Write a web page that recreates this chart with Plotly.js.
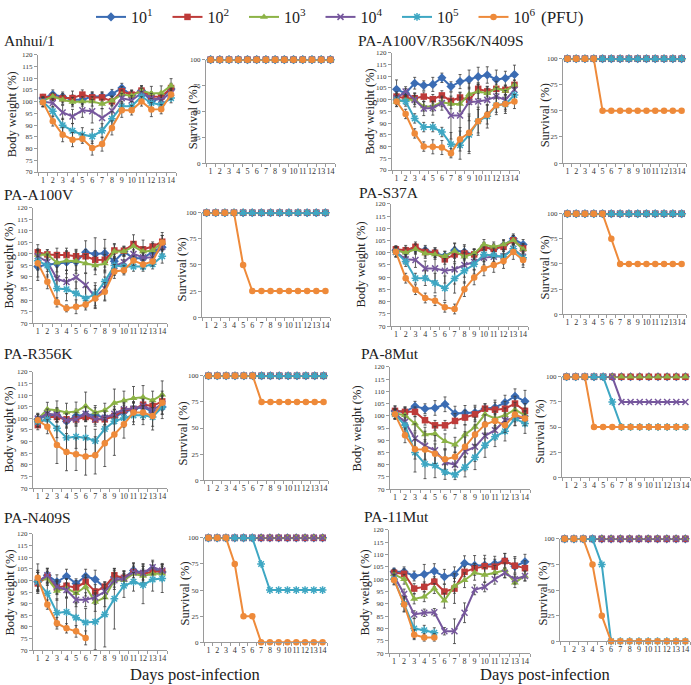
<!DOCTYPE html>
<html><head><meta charset="utf-8">
<script src="https://cdn.plot.ly/plotly-3.0.1.min.js"></script>
<style>html,body{margin:0;padding:0;background:#fff}#chart{width:691px;height:685px}</style>
</head><body><div id="chart"></div>
<script>
// ---------- DATA ----------
const days = [1,2,3,4,5,6,7,8,9,10,11,12,13,14];
const seriesNames = ['10<sup>1</sup>','10<sup>2</sup>','10<sup>3</sup>','10<sup>4</sup>','10<sup>5</sup>','10<sup>6</sup>'];
const panelTitles = ['Anhui/1','PA-A100V/R356K/N409S','PA-A100V','PA-S37A','PA-R356K','PA-8Mut','PA-N409S','PA-11Mut'];
const survTicks = [0,25,50,75,100];
const bwTicks = [70,75,80,85,90,95,100,105,110,115,120];

// Body weight (%) — rows: 10^1 .. 10^6
const anhuiW = [
 [101.5,103,102.1,100.8,100.8,102.2,102.2,103.2,105.8,102.7,104.7,100.1,101.5,105.4],
 [102,102,101.5,101.5,103,101.8,101.8,100.1,104.4,103,104.7,102.2,102.1,105.8],
 [100.4,102.2,100.8,99.8,100.1,100.1,99,100.4,103,102.5,104.7,103.5,103.7,106.8],
 [100,99.4,95.4,93.7,96.3,95.9,93,96.1,101.5,100.5,103.7,101.5,100.8,103.7],
 [100,95.9,89.9,87.6,85.9,85.2,87.6,92.7,98,98,102.2,99.4,98.7,101.5],
 [99.7,91.6,85.9,83.8,84.2,80.2,81.9,88.8,96.3,96.3,100.1,96.6,96.8,103]
];
const anhuiE = [
 [1.5,2,2,2,2,2,2,2,2,2,2,3,2,2],
 [1,1.5,2,3,2,2,2,2,2,2,2,2,2,2],
 [1.5,1.5,2,2,2,2,2,2,2,2,2,3,3,3],
 [2,2,3,3,3,5,4,3,2,2,2,2,2,2],
 [2,2,3,3,3,3,3,3,2,2,2,2,2,2],
 [2,2,3,3,2,3,3,3,3,2,2,3,2,2]
];
const anhuiS = [
 [100,100,100,100,100,100,100,100,100,100,100,100,100,100],
 [100,100,100,100,100,100,100,100,100,100,100,100,100,100],
 [100,100,100,100,100,100,100,100,100,100,100,100,100,100],
 [100,100,100,100,100,100,100,100,100,100,100,100,100,100],
 [100,100,100,100,100,100,100,100,100,100,100,100,100,100],
 [100,100,100,100,100,100,100,100,100,100,100,100,100,100]
];

const tripleW = [
 [104.4,102.7,107,106,106.5,109.3,105.6,107.7,108.6,109.8,110.5,108.6,109.1,110.7],
 [101.3,100.6,100.6,101.3,100.2,101.8,99.5,100.9,99.9,104.6,103.5,104.6,104.2,106.3],
 [99,99.9,99.9,97.1,97.1,99,98.1,98.1,102.3,103.5,102.7,104.8,103.7,106.3],
 [100.6,103.5,99.9,96.2,96.4,98.5,93.2,93.2,99,99.2,99.9,101.3,99.9,104.2],
 [99.9,99.2,92,88.3,88.3,86.2,81,80.6,85,90.8,92.9,97.6,98.1,102],
 [99.2,93.9,85.6,80,79.9,79.6,77.2,83.1,85.9,90.8,93.6,97.6,98.1,99.2]
];
const tripleE = [
 [4,2,2.5,2,3,2,2,3,4,4,3.5,4,3,4],
 [2,1.5,2,2,2,2,2,2,2,2,2,2,2,2],
 [2,2,2,2,2,2,2,3,3,3,3,3,2,2],
 [2,2,3,3,3,3,10,10,8,8,5,4,4,3],
 [2,2,2,2,2,2,5,6,8,6,5,4,4,3],
 [2,2,2,2,3,3,2,5,8,5,4,3,3,3]
];
const tripleS = [
 [100,100,100,100,100,100,100,100,100,100,100,100,100,100],
 [100,100,100,100,100,100,100,100,100,100,100,100,100,100],
 [100,100,100,100,100,100,100,100,100,100,100,100,100,100],
 [100,100,100,100,100,100,100,100,100,100,100,100,100,100],
 [100,100,100,100,100,100,100,100,100,100,100,100,100,100],
 [100,100,100,100,50,50,50,50,50,50,50,50,50,50]
];

const a100vW = [
 [94.5,95.4,95.7,96.4,96.6,100.7,100,100.3,96.8,101,98.1,98.1,101,102.9],
 [100.7,99.8,99.5,99.5,99,99,97.4,97.5,101.5,101.4,104.3,102,103.2,105.3],
 [99.5,99.8,96.2,97,96.9,95.8,95,95.8,101,101,103.3,101,101.5,105],
 [99,96.5,89.3,87.8,89.9,86.5,81.3,85,94.7,96.4,100,98.5,98.5,103],
 [97,95,85,84.7,82.9,80.7,82.5,88,95,94.5,94.5,94.5,95.5,99],
 [96,87.9,79,76.4,77.1,78.1,80.7,83.6,92.4,92.9,97.1,95.4,96.7,105]
];
const a100vE = [
 [6,3,5,5,5,5,7,6,3,2,2,2,2,3],
 [1.5,2,3,3,3,3,4,5,3,2,4,4,2,4],
 [2,2,4,4,4,4,4,4,3,2,2,2,3,3],
 [3,3,5,5,5,5,5,5,4,3,2,2,2,3],
 [7,5,5,5,5,5,5,5,4,3,2,2,2,3],
 [3,3,2,1.5,3,1.5,4,4,3,2,2,2,2,3]
];
const a100vS = [
 [100,100,100,100,100,100,100,100,100,100,100,100,100,100],
 [100,100,100,100,100,100,100,100,100,100,100,100,100,100],
 [100,100,100,100,100,100,100,100,100,100,100,100,100,100],
 [100,100,100,100,100,100,100,100,100,100,100,100,100,100],
 [100,100,100,100,100,100,100,100,100,100,100,100,100,100],
 [100,100,100,100,50,25,25,25,25,25,25,25,25,25]
];

const s37aW = [
 [101,100.3,101.8,101,100,98.6,101,100.3,99.3,102.3,101.4,103,105.7,103.4],
 [101.4,101,102.4,100.3,100,97.3,99.3,99.7,99.3,102,101.6,102.4,105.1,101.8],
 [101,100,101.4,99.7,99.3,98.6,100.7,98.4,99.7,103.4,102.4,103.4,105.1,101.4],
 [100.3,97.3,97,93.6,93.6,92.6,93.2,95,96.2,98,98.4,98.6,101.6,98.4],
 [100.3,96.4,89.6,89.6,87.6,85.5,89.5,92.6,95.3,99.3,98.9,98.4,101.6,98],
 [100.3,89.6,84.9,81.5,80.4,77.7,77,85.1,89.9,93.6,95,96.6,100.3,97]
];
const s37aE = [
 [1.5,2,2,2,2,2,3,3,2,2,2,2,2,2],
 [1.5,2,2,2,2,2,3,3,2,2,2,2,2,2],
 [1.5,2,2,2,2,2,3,3,2,2,2,2,2,2],
 [2,2,3,3,5,5,6,5,3,3,2,2,2,2],
 [2,2,2,3,4,5,6,5,4,3,3,3,2,3],
 [2,2,2,2,2,2,2,3,3,3,3,3,3,3]
];
const s37aS = [
 [100,100,100,100,100,100,100,100,100,100,100,100,100,100],
 [100,100,100,100,100,100,100,100,100,100,100,100,100,100],
 [100,100,100,100,100,100,100,100,100,100,100,100,100,100],
 [100,100,100,100,100,100,100,100,100,100,100,100,100,100],
 [100,100,100,100,100,100,100,100,100,100,100,100,100,100],
 [100,100,100,100,100,75,50,50,50,50,50,50,50,50]
];

const r356kW = [
 [99.6,101.3,101.3,98.8,101,101.6,101.6,100.2,100.6,102.7,103.9,104.9,102.7,104.9],
 [97.1,100.6,100.6,99.6,99.6,100.6,99.5,99.6,101,103.5,103.9,105.9,105.3,107.3],
 [99.6,103.9,103.5,102.5,103,105.3,102.5,103.5,106.6,107.7,108.7,109.1,107.7,110.1],
 [99.9,102,101.6,99.2,99.6,102,99.6,100.2,102,103.9,104.2,105.3,103.5,106.3],
 [98.5,99.6,95.7,91.7,92.1,91.7,90.3,95.4,98.8,100.2,101.3,101.3,100.6,104.9],
 [99.2,96.4,88.6,85.5,84.6,83.6,84.1,89.3,93.1,97.5,102.5,102.5,101,106.7]
];
const r356kE = [
 [2,2,3,3,3,3,3,3,3,3,3,3,3,3],
 [2,2,2,2,2,2,2,3,3,3,3,3,3,3],
 [2,3,4,4,4,6,3,3,6,4,5,5,4,6],
 [2,2,3,3,3,3,3,3,3,3,3,3,3,3],
 [2,3,4,5,5,5,5,5,5,4,4,4,4,5],
 [3,3,8,8,7,8,8,10,9,6,4,3,6,5]
];
const r356kS = [
 [100,100,100,100,100,100,100,100,100,100,100,100,100,100],
 [100,100,100,100,100,100,100,100,100,100,100,100,100,100],
 [100,100,100,100,100,100,100,100,100,100,100,100,100,100],
 [100,100,100,100,100,100,100,100,100,100,100,100,100,100],
 [100,100,100,100,100,100,100,100,100,100,100,100,100,100],
 [100,100,100,100,100,100,75,75,75,75,75,75,75,75]
];

const mut8W = [
 [102,101.6,103.9,102.9,103.2,104.7,100.9,101.2,101.3,102.9,103.4,105.4,108,105.9],
 [102,101.6,101.6,98.2,96.1,96.1,97.9,99.3,100.6,102.9,102.5,102.9,105,102],
 [100.9,100.2,96.8,92.3,92.7,89.6,88.2,92.3,95.4,100.6,98.9,100.2,102.5,100.2],
 [100.9,97.5,90.7,87.7,85.9,81,80,85.5,87.3,91.8,94.1,98.2,99.1,99.1],
 [100.6,96.1,85,80.3,79.7,77,75.9,79,83,88,91.4,93.7,98.9,96.8],
 [100.6,92,86.3,86.2,84.5,82.2,83.2,87.3,92.3,96.4,97.9,96.1,100.5,98.9]
];
const mut8E = [
 [2,2,2,2,3,3,3,3,3,2,3,3,3,4.5],
 [2,2,2,2,2,2,3,3,3,2,3,3,3,3],
 [2,3,3,3,3,3,3,4,4,3,3,3,3,3],
 [2,3,6,6,6,5,5,8,6,5,4,3,3,3],
 [2,3,8,6,5,3,2,4,5,5,4,4,3,4],
 [2,3,4,4,4,4,4,4,4,4,3,3,3,3]
];
const mut8S = [
 [100,100,100,100,100,100,100,100,100,100,100,100,100,100],
 [100,100,100,100,100,100,100,100,100,100,100,100,100,100],
 [100,100,100,100,100,100,100,100,100,100,100,100,100,100],
 [100,100,100,100,100,100,75,75,75,75,75,75,75,75],
 [100,100,100,100,100,75,50,50,50,50,50,50,50,50],
 [100,100,100,50,50,50,50,50,50,50,50,50,50,50]
];

const n409sW = [
 [99.4,102.2,99.4,101.8,98.7,101.8,100.4,96.9,101.5,101.1,104.3,103.2,105,103.6],
 [98.7,101.5,96.9,97.7,96.9,99.4,95.2,97.3,102.2,101.1,103.6,102.9,103.6,103.9],
 [100.1,100.8,95.5,96.6,94.5,97.3,90.7,92.7,100.1,100.1,102.9,101.9,102.9,102.9],
 [99.4,102.2,97.3,95.9,91.7,91.7,92.7,95.2,100.1,100.8,103.6,103.2,105.7,104.3],
 [99.4,94.5,86.1,86.4,84,81.9,82.2,85.4,92.1,97.7,99.4,98,100.4,100.8],
 [101.1,89.6,81.6,79.4,78.1,75.3]
];
const n409sE = [
 [5,3,3,3,2,3,4,2,3,3,3,4,3,3],
 [3,3,3,3,3,3,3,2,3,3,4,4,3,3],
 [4,3,4,4,4,4,4,4,4,3,3,3,3,3],
 [4,3,3,3,3,3,3,3,3,3,3,3,3,3],
 [4,4,6,6,6,6,12,14,13,5,4,8,5,6],
 [6,2,2.5,2,2.5,3]
];
const n409sS = [
 [100,100,100,100,100,100,100,100,100,100,100,100,100,100],
 [100,100,100,100,100,100,100,100,100,100,100,100,100,100],
 [100,100,100,100,100,100,100,100,100,100,100,100,100,100],
 [100,100,100,100,100,100,100,100,100,100,100,100,100,100],
 [100,100,100,100,100,100,75,50,50,50,50,50,50,50],
 [100,100,100,75,25,25,0,0,0,0,0,0,0,0]
];

const mut11W = [
 [103,103,101.3,102,103.3,101,102,106.5,105.6,105.7,106.3,107.5,105.2,107.1],
 [102.6,102.2,96.2,96.9,99,95,96.2,103,104.4,105.3,105.1,107.4,105.5,104.5],
 [102,100,92,92.9,96.2,91.3,97.3,99.6,102.6,101.7,102.6,103.6,98.6,101.3],
 [101.3,94,85.7,86.4,86.6,78.9,78.9,86.4,95.7,96.9,100,102.6,100,101.3],
 [100,90,80,79.3,78.3],
 [99.7,89.7,77.5,76.4,76.4]
];
const mut11E = [
 [1.5,2,2,4,3,3,3,3,4,4,3,3,4,3],
 [1.5,2,2,2,2,3,6,2,2,3,3,3,3,3],
 [2,2,2,2,2,3,3,3,3,3,3,3,2,2],
 [2,2,1.5,1.5,1.5,1.5,5,4,2,2,2,2,2,2],
 [2,3,4,2,2],
 [2,3,2,1.5,1.5]
];
const mut11S = [
 [100,100,100,100,100,100,100,100,100,100,100,100,100,100],
 [100,100,100,100,100,100,100,100,100,100,100,100,100,100],
 [100,100,100,100,100,100,100,100,100,100,100,100,100,100],
 [100,100,100,100,100,100,100,100,100,100,100,100,100,100],
 [100,100,100,100,75,0,0,0,0,0,0,0,0,0],
 [100,100,100,75,25,0,0,0,0,0,0,0,0,0]
];

// ---------- STYLE / LAYOUT ----------
const W = 691, H = 685;
const SERIF = 'Liberation Serif, Times New Roman, serif';
const colors = ['#3b6cb3','#be3b39','#8cb346','#76579d','#3ea7c3','#ee8a3a'];
const symbols = ['diamond','square','triangle-up','x-thin-open','asterisk-open','circle'];
const msize = [7,6.5,7,6,6.5,6.5];

const panelData = [
  [anhuiW, anhuiE, anhuiS],[tripleW, tripleE, tripleS],
  [a100vW, a100vE, a100vS],[s37aW, s37aE, s37aS],
  [r356kW, r356kE, r356kS],[mut8W, mut8E, mut8S],
  [n409sW, n409sE, n409sS],[mut11W, mut11E, mut11S]
];
// pixel boxes: title pos, bw [x0,x1,yTop,yBot], sv [...], axis title centers
const boxes = [
 {t:[2,37],   bw:[38,176,51,169],  sv:[206,335,56,160],  bwt:[12,111], svt:[193,114]},
 {t:[356,37], bw:[392,519,49,167], sv:[563,686,55,160],  bwt:[370,108],svt:[545,112]},
 {t:[2,192],  bw:[33,167,205,321], sv:[202,330,210,315], bwt:[9,263],  svt:[182,267]},
 {t:[357,190],bw:[391,528,201,324],sv:[563,686,211,312], bwt:[361,262],svt:[545,265]},
 {t:[2,352],  bw:[33,167,370,487], sv:[204,328,374,479], bwt:[9,428],  svt:[183,432]},
 {t:[359,352],bw:[390,530,365,488],sv:[562,690,375,476], bwt:[357,427],svt:[540,430]},
 {t:[2,517],  bw:[33,167,533,650], sv:[204,327,537,642], bwt:[10,592], svt:[185,593]},
 {t:[362,516],bw:[389,530,529,653],sv:[560,690,538,641], bwt:[365,592],svt:[543,593]}
];
const px = v => v / W, py = v => 1 - v / H;

const traces = [];
const layout = {
  width: W, height: H, margin:{l:0,r:0,t:0,b:0},
  paper_bgcolor:'#fff', plot_bgcolor:'#fff',
  font:{family:SERIF, color:'#222', size:8},
  showlegend:true,
  legend:{orientation:'h', x:px(91), xanchor:'left', y:py(13), yanchor:'middle',
          font:{family:SERIF, size:16, color:'#222'}, entrywidth:31.5,
          bgcolor:'rgba(0,0,0,0)'},
  annotations:[], 
};

function axisX(dom, anchor){
  return {domain:[px(dom[0]), px(dom[1])], anchor:anchor, range:[0.5,14.5],
    tickmode:'array', tickvals:days, ticktext:days.map(String), tickangle:0,
    ticks:'', showline:true, linecolor:'#9a9a9a', linewidth:1, showgrid:false, zeroline:false,
    tickfont:{family:SERIF,size:8,color:'#333'},
    minor:{dtick:1, tick0:0.5, ticks:'outside', ticklen:3, tickcolor:'#9a9a9a', showgrid:false},
    fixedrange:true};
}
function axisY(dom, anchor, range, tv){
  return {domain:[py(dom[3]), py(dom[2])], anchor:anchor, range:range,
    tickmode:'array', tickvals:tv, ticks:'outside', ticklen:3, tickcolor:'#9a9a9a',
    showline:true, linecolor:'#9a9a9a', linewidth:1, showgrid:false, zeroline:false,
    tickfont:{family:SERIF,size:7,color:'#333'}, fixedrange:true};
}

panelData.forEach((pd, p) => {
  const [bw, er, sv] = pd;
  const b = boxes[p];
  const iB = 2*p+1, iS = 2*p+2;
  const xB = 'x'+(iB===1?'':iB), yB = 'y'+(iB===1?'':iB);
  const xS = 'x'+iS, yS = 'y'+iS;
  layout['xaxis'+(iB===1?'':iB)] = axisX(b.bw, yB);
  layout['yaxis'+(iB===1?'':iB)] = axisY(b.bw, xB, [70,120], bwTicks);
  layout['xaxis'+iS] = axisX(b.sv, yS);
  layout['yaxis'+iS] = axisY(b.sv, xS, [0,100], survTicks);

  for (let s = 0; s < 6; s++) {
    const mk = {symbol:symbols[s], size:msize[s], color:colors[s],
                line:{color:colors[s], width:(s===3||s===4)?1.5:0}};
    traces.push({type:'scatter', mode:'lines+markers', x:days.slice(0,bw[s].length), y:bw[s],
      xaxis:xB, yaxis:yB, name:seriesNames[s], showlegend:p===0,
      line:{color:colors[s], width:2}, marker:mk, cliponaxis:false,
      error_y:{type:'data', array:er[s], visible:true, color:'#3a3a3a', thickness:0.8, width:1.5}});
  }
  for (let s = 0; s < 6; s++) {
    const mk = {symbol:symbols[s], size:msize[s], color:colors[s],
                line:{color:colors[s], width:(s===3||s===4)?1.5:0}};
    traces.push({type:'scatter', mode:'lines+markers', x:days.slice(0,sv[s].length), y:sv[s],
      xaxis:xS, yaxis:yS, name:seriesNames[s], showlegend:false,
      line:{color:colors[s], width:2}, marker:mk, cliponaxis:false});
  }
  layout.annotations.push({text:panelTitles[p], xref:'paper', yref:'paper', x:px(b.t[0]), y:py(b.t[1]),
    xanchor:'left', yanchor:'middle', showarrow:false, font:{family:SERIF,size:15.5,color:'#222'}});
  layout.annotations.push({text:'Body weight (%)', xref:'paper', yref:'paper', x:px(b.bwt[0]), y:py(b.bwt[1]),
    xanchor:'center', yanchor:'middle', textangle:-90, showarrow:false, font:{family:SERIF,size:12.5,color:'#222'}});
  layout.annotations.push({text:'Survival (%)', xref:'paper', yref:'paper', x:px(b.svt[0]), y:py(b.svt[1]),
    xanchor:'center', yanchor:'middle', textangle:-90, showarrow:false, font:{family:SERIF,size:12.5,color:'#222'}});
});

layout.annotations.push({text:'Days post-infection', xref:'paper', yref:'paper', x:px(195), y:py(674),
  xanchor:'center', yanchor:'middle', showarrow:false, font:{family:SERIF,size:16.5,color:'#222'}});
layout.annotations.push({text:'Days post-infection', xref:'paper', yref:'paper', x:px(545), y:py(674),
  xanchor:'center', yanchor:'middle', showarrow:false, font:{family:SERIF,size:16.5,color:'#222'}});
layout.annotations.push({text:'(PFU)', xref:'paper', yref:'paper', x:px(562), y:py(14),
  xanchor:'center', yanchor:'middle', showarrow:false, font:{family:SERIF,size:17,color:'#222'}});

Plotly.newPlot('chart', traces, layout, {staticPlot:true, displayModeBar:false});
</script></body></html>
